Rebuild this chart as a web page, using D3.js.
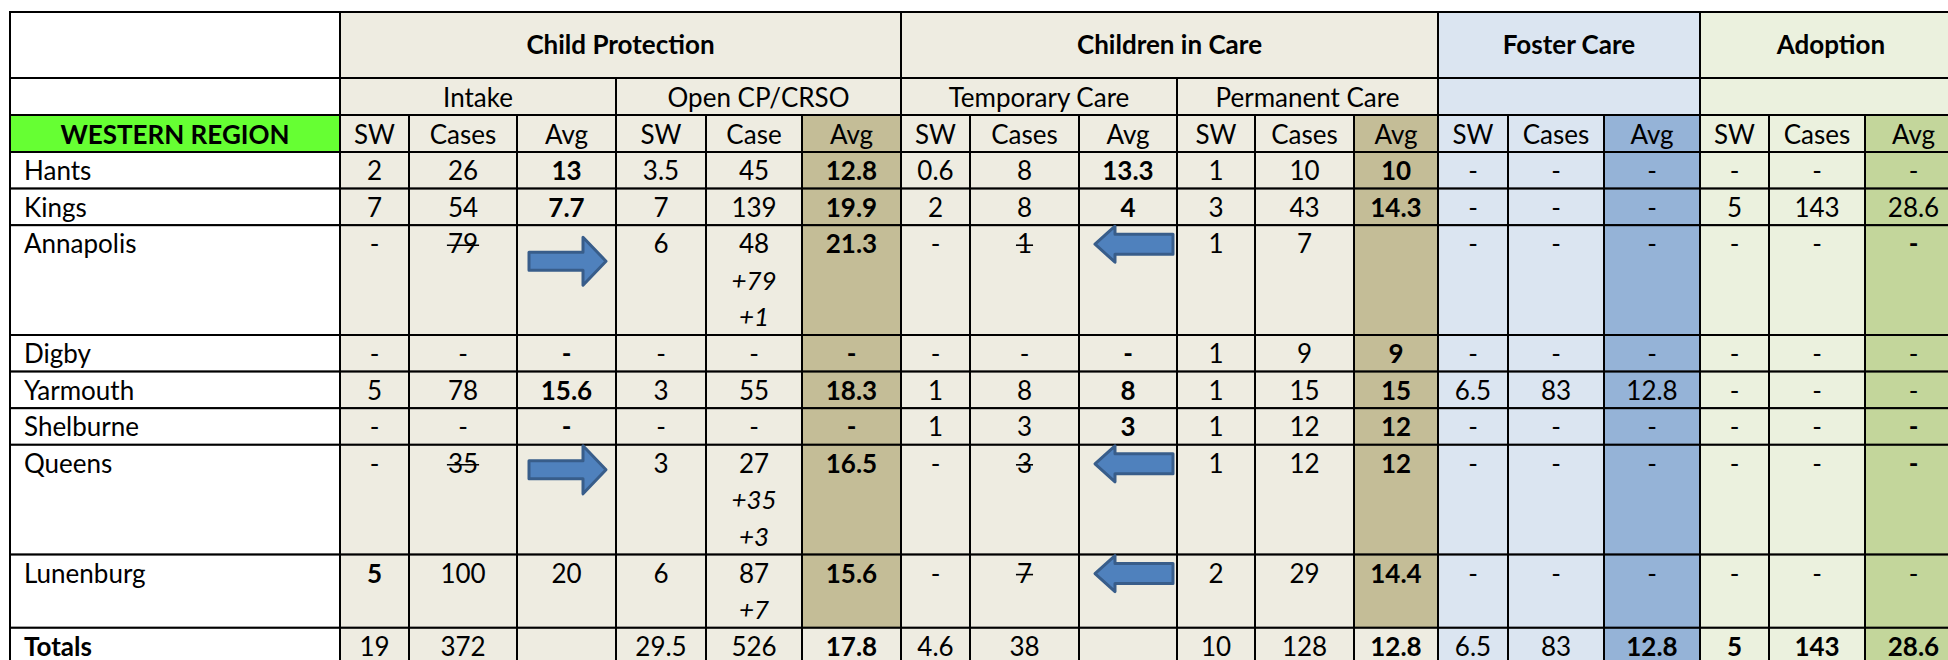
<!DOCTYPE html>
<html>
<head>
<meta charset="utf-8">
<script src="https://cdn.jsdelivr.net/npm/d3@7"></script>
<style>
  body { margin: 0; background: #fff; }
  svg text { font-family: Lato, "Noto Sans", sans-serif; fill: #000; }
</style>
</head>
<body>
<div id="chart"></div>
<script>
// ---- data ----
const regionTitle = "WESTERN REGION";
const regions = ["Hants", "Kings", "Annapolis", "Digby", "Yarmouth", "Shelburne", "Queens", "Lunenburg", "Totals"];
const rowLines = [1, 1, 3, 1, 1, 1, 3, 2, 1];

const groupNames = ["Child Protection", "Children in Care", "Foster Care", "Adoption"];
const groupSpans = [6, 6, 3, 3];
const subNames = ["Intake", "Open CP/CRSO", "Temporary Care", "Permanent Care", "", ""];
const subSpans = [3, 3, 3, 3, 3, 3];
const colLabels = ["SW", "Cases", "Avg", "SW", "Case", "Avg", "SW", "Cases", "Avg",
                   "SW", "Cases", "Avg", "SW", "Cases", "Avg", "SW", "Cases", "Avg"];

// "*" bold, "~" struck through, "_" italic, "|" new line
const intakeSW    = ["2", "7", "-", "-", "5", "-", "-", "*5", "19"];
const intakeCases = ["26", "54", "~79", "-", "78", "-", "~35", "100", "372"];
const intakeAvg   = ["*13", "*7.7", "", "*-", "*15.6", "*-", "", "20", ""];
const openSW      = ["3.5", "7", "6", "-", "3", "-", "3", "6", "29.5"];
const openCase    = ["45", "139", "48|_+79|_+1", "-", "55", "-", "27|_+35|_+3", "87|_+7", "526"];
const openAvg     = ["*12.8", "*19.9", "*21.3", "*-", "*18.3", "*-", "*16.5", "*15.6", "*17.8"];
const tempSW      = ["0.6", "2", "-", "-", "1", "1", "-", "-", "4.6"];
const tempCases   = ["8", "8", "~1", "-", "8", "3", "~3", "~7", "38"];
const tempAvg     = ["*13.3", "*4", "", "*-", "*8", "*3", "", "", ""];
const permSW      = ["1", "3", "1", "1", "1", "1", "1", "2", "10"];
const permCases   = ["10", "43", "7", "9", "15", "12", "12", "29", "128"];
const permAvg     = ["*10", "*14.3", "", "*9", "*15", "*12", "*12", "*14.4", "*12.8"];
const fosterSW    = ["-", "-", "-", "-", "6.5", "-", "-", "-", "6.5"];
const fosterCases = ["-", "-", "-", "-", "83", "-", "-", "-", "83"];
const fosterAvg   = ["-", "-", "-", "-", "12.8", "-", "-", "-", "*12.8"];
const adoptSW     = ["-", "5", "-", "-", "-", "-", "-", "-", "*5"];
const adoptCases  = ["-", "143", "-", "-", "-", "-", "-", "-", "*143"];
const adoptAvg    = ["-", "28.6", "*-", "-", "-", "*-", "*-", "-", "*28.6"];

const columns = [intakeSW, intakeCases, intakeAvg, openSW, openCase, openAvg,
                 tempSW, tempCases, tempAvg, permSW, permCases, permAvg,
                 fosterSW, fosterCases, fosterAvg, adoptSW, adoptCases, adoptAvg];

// moved-case arrows
const arrowRegions = ["Annapolis", "Queens", "Annapolis", "Queens", "Lunenburg"];
const arrowCols = [2, 2, 8, 8, 8];
const arrowDirs = ["right", "right", "left", "left", "left"];

// ---- layout ----
const width = 1948, height = 660;
const colEdges = [340, 409, 517, 616, 706, 802, 901, 970, 1079, 1177, 1255, 1354, 1438, 1508, 1604, 1700, 1769, 1865, 1962];
const left = 10;
const headEdges = [12, 78, 115, 152];
const lineH = 36.6;
const fontSize = 26;

const x0 = d3.scaleOrdinal().domain(d3.range(colLabels.length)).range(colEdges.slice(0, -1));
const x1 = d3.scaleOrdinal().domain(d3.range(colLabels.length)).range(colEdges.slice(1));
const totalLines = d3.sum(rowLines);
const y = d3.scaleLinear().domain([0, totalLines]).range([headEdges[3], headEdges[3] + totalLines * lineH]);
const rowStart = [0, ...d3.cumsum(rowLines)];

const beige = "#EEECE1", tan = "#C4BD97", blue = "#DBE5F1", blueDk = "#95B3D7",
      green = "#EBF1DE", greenDk = "#C3D69B";
function groupFill(c) { return c < 12 ? beige : c < 15 ? blue : green; }
function cellFill(c, r) {
  const isTotal = r === regions.length - 1;
  if (c === 5 || c === 11) return isTotal ? beige : tan;
  if (c === 14) return blueDk;
  if (c === 17) return greenDk;
  return groupFill(c);
}

const svg = d3.select("#chart").append("svg")
  .attr("width", width).attr("height", height);

const grid = svg.append("g").attr("stroke", "#000").attr("stroke-width", 2);
const labels = svg.append("g").attr("font-size", fontSize);

function writeText(g, str, x, yBase, anchor) {
  const parts = str.split("|");
  parts.forEach((p, i) => {
    let bold = false, strike = false, ital = false;
    while (/^[*~_]/.test(p)) {
      if (p[0] === "*") bold = true;
      if (p[0] === "~") strike = true;
      if (p[0] === "_") ital = true;
      p = p.slice(1);
    }
    const t = g.append("text")
      .attr("x", x).attr("y", yBase + i * lineH)
      .attr("text-anchor", anchor)
      .attr("font-weight", bold ? 700 : 400)
      .attr("font-style", ital ? "italic" : "normal")
      .text(p);
    if (strike) {
      const w = t.node().getComputedTextLength();
      const sx = anchor === "middle" ? x - w / 2 : x;
      g.append("line")
        .attr("x1", sx - 1).attr("x2", sx + w + 1)
        .attr("y1", yBase + i * lineH - 8).attr("y2", yBase + i * lineH - 8)
        .attr("stroke", "#000").attr("stroke-width", 1.6);
    }
  });
}

// header row 1: groups
grid.append("rect").attr("x", left).attr("y", headEdges[0])
  .attr("width", colEdges[0] - left).attr("height", headEdges[1] - headEdges[0]).attr("fill", "#fff");
let c = 0;
groupNames.forEach((name, i) => {
  const a = c, b = c + groupSpans[i] - 1;
  grid.append("rect").attr("x", x0(a)).attr("y", headEdges[0])
    .attr("width", x1(b) - x0(a)).attr("height", headEdges[1] - headEdges[0])
    .attr("fill", groupFill(a));
  writeText(labels, "*" + name, (x0(a) + x1(b)) / 2, headEdges[0] + 42, "middle");
  c += groupSpans[i];
});

// header row 2: sub groups
grid.append("rect").attr("x", left).attr("y", headEdges[1])
  .attr("width", colEdges[0] - left).attr("height", headEdges[2] - headEdges[1]).attr("fill", "#fff");
c = 0;
subNames.forEach((name, i) => {
  const a = c, b = c + subSpans[i] - 1;
  grid.append("rect").attr("x", x0(a)).attr("y", headEdges[1])
    .attr("width", x1(b) - x0(a)).attr("height", headEdges[2] - headEdges[1])
    .attr("fill", groupFill(a));
  if (name) writeText(labels, name, (x0(a) + x1(b)) / 2, headEdges[2] - 8, "middle");
  c += subSpans[i];
});

// header row 3: column labels
grid.append("rect").attr("x", left).attr("y", headEdges[2])
  .attr("width", colEdges[0] - left).attr("height", headEdges[3] - headEdges[2]).attr("fill", "#66FF33");
writeText(labels, "*" + regionTitle, (left + colEdges[0]) / 2, headEdges[3] - 8, "middle");
colLabels.forEach((lab, i) => {
  grid.append("rect").attr("x", x0(i)).attr("y", headEdges[2])
    .attr("width", x1(i) - x0(i)).attr("height", headEdges[3] - headEdges[2])
    .attr("fill", cellFill(i, 0));
  writeText(labels, lab, (x0(i) + x1(i)) / 2, headEdges[3] - 8, "middle");
});

// body rows
regions.forEach((reg, r) => {
  const top = y(rowStart[r]), bot = y(rowStart[r + 1]);
  grid.append("rect").attr("x", left).attr("y", top)
    .attr("width", colEdges[0] - left).attr("height", bot - top).attr("fill", "#fff");
  writeText(labels, (r === regions.length - 1 ? "*" : "") + reg, left + 14, top + 28, "start");
  columns.forEach((col, i) => {
    grid.append("rect").attr("x", x0(i)).attr("y", top)
      .attr("width", x1(i) - x0(i)).attr("height", bot - top)
      .attr("fill", cellFill(i, r));
    if (col[r]) writeText(labels, col[r], (x0(i) + x1(i)) / 2, top + 28, "middle");
  });
});

// block arrows
const arrows = svg.append("g").attr("fill", "#4F81BD").attr("stroke", "#385D8A").attr("stroke-width", 3);
arrowRegions.forEach((reg, k) => {
  const r = regions.indexOf(reg), col = arrowCols[k];
  const top = y(rowStart[r]);
  let pts;
  if (arrowDirs[k] === "right") {
    const ax = x0(col) + 12, bx = x1(col) - 10, cy = top + (r === 2 ? 36 : 25);
    const hx = bx - 23;
    pts = [[ax, cy - 9], [hx, cy - 9], [hx, cy - 24], [bx, cy], [hx, cy + 24], [hx, cy + 9], [ax, cy + 9]];
  } else {
    const ax = x0(col) + 16, bx = x1(col) - 4, cy = top + 19;
    const hx = ax + 20;
    pts = [[bx, cy - 10], [hx, cy - 10], [hx, cy - 18], [ax, cy], [hx, cy + 18], [hx, cy + 10], [bx, cy + 10]];
  }
  arrows.append("path").attr("d", d3.line()(pts) + "Z").attr("stroke-linejoin", "round");
});
</script>
</body>
</html>
